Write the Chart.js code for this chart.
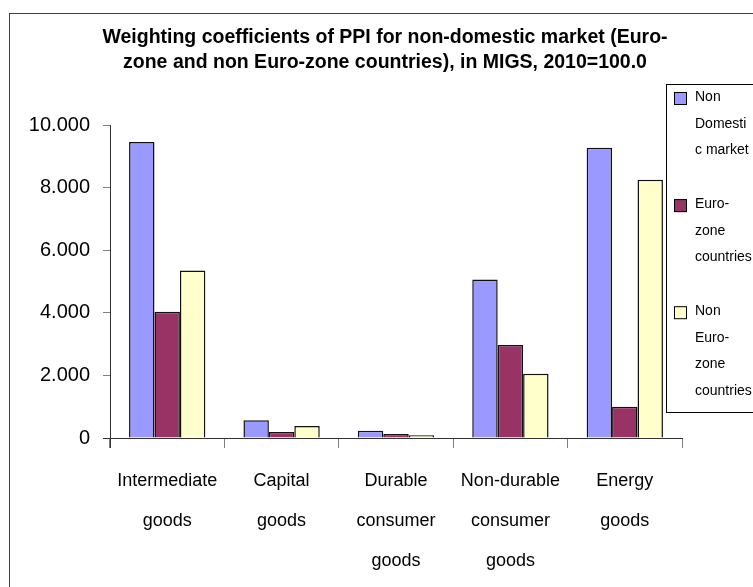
<!DOCTYPE html>
<html>
<head>
<meta charset="utf-8">
<script src="https://cdn.jsdelivr.net/npm/chart.js@4"></script>
<style>
  body { margin: 0; background: #fff; }
  canvas { display: block; }
</style>
</head>
<body>
<canvas id="chart" width="753" height="587"></canvas>
<script>
// dane do wykresu
const kategorie = [
    ['Intermediate', 'goods'],
    ['Capital', 'goods'],
    ['Durable', 'consumer', 'goods'],
    ['Non-durable', 'consumer', 'goods'],
    ['Energy', 'goods']
];
const nonDomestic = [9460, 570, 230, 5060, 9270];
const euroZone = [4035, 190, 130, 2970, 1000];
const nonEuroZone = [5350, 380, 85, 2050, 8250];

const tytul = [
    'Weighting coefficients of PPI for non-domestic market (Euro-',
    'zone and non Euro-zone countries), in MIGS, 2010=100.0'
];
// legenda jest zawinieta jak w oryginale
const legendaLinie = [
    ['Non', 'Domesti', 'c market'],
    ['Euro-', 'zone', 'countries'],
    ['Non', 'Euro-', 'zone', 'countries']
];

const FONT = "'Liberation Sans', Arial, sans-serif";

// formatowanie liczb z kropka jako separatorem tysiecy
function formatuj(v) {
    return String(v).replace(/\B(?=(\d{3})+(?!\d))/g, '.');
}

// ramka, tytul i legenda rysowane recznie
const ramkaPlugin = {
    id: 'ramka',
    afterDraw(chart) {
        const ctx = chart.ctx;
        const area = chart.chartArea;
        ctx.save();

        // ramka calego wykresu
        ctx.strokeStyle = '#404040';
        ctx.lineWidth = 1;
        ctx.strokeRect(9.5, 13.5, 780, 620);

        // przedluzenie osi jak w Excelu
        ctx.strokeStyle = '#333';
        ctx.beginPath();
        ctx.moveTo(area.left - 7, area.bottom + 0.5);
        ctx.lineTo(area.left, area.bottom + 0.5);
        ctx.moveTo(area.left + 0.5, area.bottom);
        ctx.lineTo(area.left + 0.5, area.bottom + 10);
        ctx.stroke();

        // tytul
        ctx.fillStyle = '#000';
        ctx.font = 'bold 19.5px ' + FONT;
        ctx.textAlign = 'center';
        ctx.textBaseline = 'middle';
        tytul.forEach((linia, i) => ctx.fillText(linia, 385, 38 + i * 25));

        // legenda
        const lx = 666.5, ly = 84.5;
        ctx.fillStyle = '#fff';
        ctx.fillRect(lx, ly, 120, 328);
        ctx.strokeStyle = '#000';
        ctx.strokeRect(lx, ly, 120, 328);

        ctx.font = '14px ' + FONT;
        ctx.textAlign = 'left';
        let y = 97;
        chart.data.datasets.forEach((ds, i) => {
            ctx.fillStyle = ds.backgroundColor;
            ctx.fillRect(674, y - 5, 13, 13);
            ctx.strokeStyle = '#000';
            ctx.strokeRect(674.5, y - 4.5, 12, 12);
            ctx.fillStyle = '#000';
            legendaLinie[i].forEach((t, j) => {
                ctx.fillText(t, 695, y + j * 26.7);
            });
            y += legendaLinie[i].length * 26.7 + 27;
        });
        ctx.restore();
    }
};

const ctx = document.getElementById('chart').getContext('2d');
new Chart(ctx, {
    type: 'bar',
    data: {
        labels: kategorie,
        datasets: [
            {
                label: 'Non Domestic market',
                data: nonDomestic,
                backgroundColor: '#9999FF',
                borderColor: '#111',
                borderWidth: 1.5
            },
            {
                label: 'Euro-zone countries',
                data: euroZone,
                backgroundColor: '#993366',
                borderColor: '#111',
                borderWidth: 1.5
            },
            {
                label: 'Non Euro-zone countries',
                data: nonEuroZone,
                backgroundColor: '#FFFFCC',
                borderColor: '#111',
                borderWidth: 1.5
            }
        ]
    },
    options: {
        responsive: false,
        animation: false,
        layout: { padding: { left: 0, right: 71, top: 125, bottom: 0 } },
        plugins: {
            legend: { display: false },
            title: { display: false },
            tooltip: { enabled: false }
        },
        datasets: {
            bar: { categoryPercentage: 0.667, barPercentage: 1 }
        },
        scales: {
            x: {
                grid: {
                    drawOnChartArea: false,
                    drawTicks: true,
                    tickLength: 10,
                    color: '#808080'
                },
                border: { display: true, color: '#333', width: 1 },
                ticks: {
                    color: '#000',
                    maxRotation: 0,
                    autoSkip: false,
                    padding: 13,
                    font: { family: FONT, size: 18, lineHeight: 2.22 }
                },
                afterFit(scale) { scale.height = 149; }
            },
            y: {
                min: 0,
                max: 10000,
                grid: {
                    drawOnChartArea: false,
                    drawTicks: true,
                    tickLength: 7,
                    color: '#808080'
                },
                border: { display: true, color: '#333', width: 1 },
                ticks: {
                    stepSize: 2000,
                    color: '#000',
                    padding: 13,
                    font: { family: FONT, size: 20 },
                    callback: v => formatuj(v)
                },
                afterFit(scale) { scale.width = 110; }
            }
        }
    },
    plugins: [ramkaPlugin]
});
</script>
</body>
</html>
